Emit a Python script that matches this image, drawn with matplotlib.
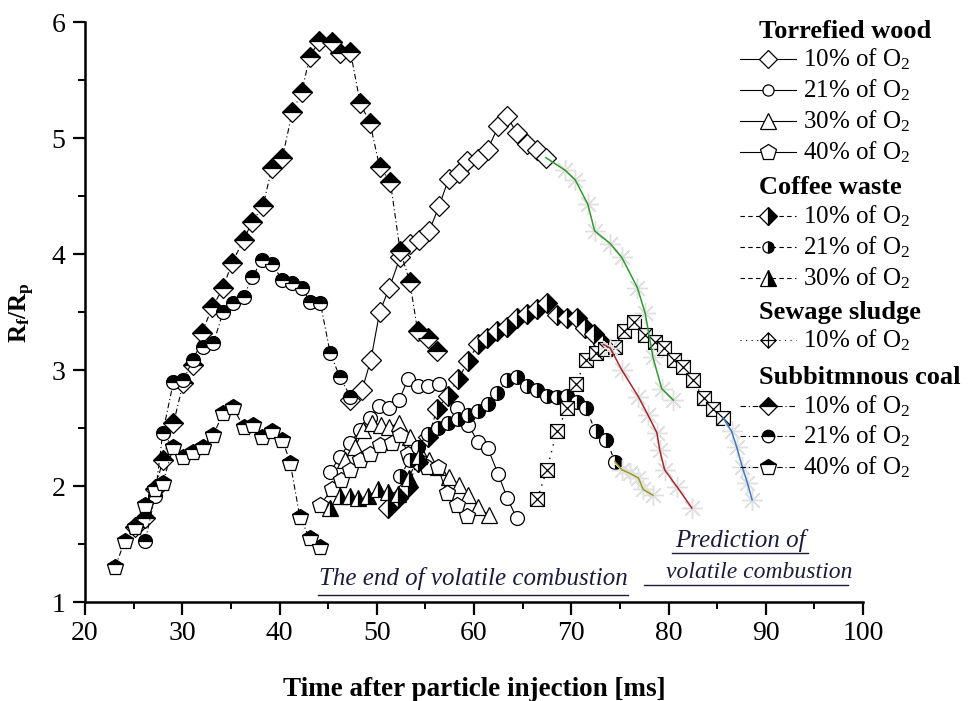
import numpy as np
import matplotlib.pyplot as plt
from matplotlib.path import Path

plt.rcParams['font.family'] = ['Liberation Serif', 'DejaVu Serif']
plt.rcParams['mathtext.fontset'] = 'custom'
plt.rcParams['mathtext.rm'] = 'Liberation Serif'
plt.rcParams['mathtext.it'] = 'Liberation Serif:italic'
plt.rcParams['mathtext.bf'] = 'Liberation Serif:bold'
plt.rcParams['mathtext.default'] = 'rm'

# ---- data (time in ms, Rf/Rp) ----
# torrefied wood
tw10_t = [47.2, 48.5, 49.4, 50.3, 51.3, 52.4, 53.4, 54.3, 55.4, 56.4, 57.4, 58.5, 59.3, 60.4, 61.4, 62.5, 63.4, 64.4, 65.4, 66.5, 67.4]
tw10_r = [2.74, 2.83, 3.09, 3.50, 3.71, 3.97, 4.09, 4.12, 4.20, 4.41, 4.65, 4.70, 4.80, 4.82, 4.90, 5.10, 5.19, 5.04, 4.95, 4.90, 4.83]
tw21_t = [45.2, 46.2, 47.2, 48.3, 49.3, 50.2, 51.3, 52.3, 53.2, 54.2, 55.3, 56.4, 58.3, 59.4, 60.4, 61.4, 62.5, 63.4, 64.4]
tw21_r = [2.12, 2.25, 2.37, 2.48, 2.59, 2.69, 2.67, 2.74, 2.92, 2.86, 2.86, 2.88, 2.67, 2.53, 2.38, 2.33, 2.10, 1.90, 1.72]
tw30_t = [46.7, 47.8, 48.6, 49.5, 50.4, 51.3, 52.3, 53.4, 54.3, 55.4, 56.3, 57.4, 58.5, 59.4, 60.4, 61.5]
tw30_r = [2.22, 2.34, 2.48, 2.54, 2.53, 2.51, 2.54, 2.42, 2.31, 2.22, 2.16, 2.08, 2.01, 1.92, 1.82, 1.75]
tw40_t = [44.2, 45.4, 46.3, 47.2, 48.3, 49.3, 50.3, 51.6, 52.4, 53.2, 54.2, 55.2, 56.3, 57.2, 58.3, 59.3]
tw40_r = [1.84, 1.97, 2.05, 2.14, 2.22, 2.28, 2.35, 2.37, 2.44, 2.28, 2.22, 2.16, 2.16, 1.94, 1.84, 1.74]

# coffee waste
cw10_t = [51.2, 52.2, 53.2, 54.2, 55.3, 56.2, 57.3, 58.4, 59.4, 60.4, 61.3, 62.4, 63.4, 64.4, 65.5, 66.5, 67.5, 68.5, 69.6, 70.6, 71.4, 72.3, 73.3]
cw10_r = [1.81, 1.90, 1.99, 2.21, 2.42, 2.66, 2.78, 2.92, 3.08, 3.22, 3.28, 3.34, 3.37, 3.45, 3.48, 3.53, 3.58, 3.47, 3.45, 3.45, 3.36, 3.31, 3.22]
cw21_t = [52.4, 53.4, 54.2, 55.3, 56.3, 57.3, 58.4, 59.4, 60.4, 61.4, 62.4, 63.4, 64.4, 65.5, 66.5, 67.5, 68.5, 69.6, 70.6, 71.5, 72.5, 73.6, 74.5]
cw21_r = [2.09, 2.22, 2.34, 2.45, 2.50, 2.54, 2.58, 2.61, 2.65, 2.71, 2.80, 2.91, 2.94, 2.86, 2.83, 2.78, 2.77, 2.78, 2.72, 2.67, 2.47, 2.40, 2.21]
cw30_t = [45.2, 46.2, 47.2, 48.1, 49.1, 50.1, 51.2, 52.2, 53.3, 54.3]
cw30_r = [1.81, 1.91, 1.91, 1.90, 1.91, 1.97, 1.95, 1.93, 2.07, 2.26]

# sewage sludge
ss10_t = [66.5, 67.5, 68.5, 69.6, 70.5, 71.5, 72.5, 73.5, 74.5, 75.4, 76.5, 77.6, 78.6, 79.5, 80.6, 81.5, 82.5, 83.6, 84.6, 85.6]
ss10_r = [1.89, 2.14, 2.47, 2.67, 2.88, 3.09, 3.15, 3.18, 3.20, 3.34, 3.41, 3.30, 3.24, 3.19, 3.09, 3.03, 2.91, 2.76, 2.66, 2.59]

# subbituminous coal
sc10_t = [25.1, 26.2, 27.2, 28.0, 29.1, 30.1, 31.1, 32.0, 33.1, 34.2, 35.1, 36.3, 37.2, 38.3, 39.2, 40.3, 41.3, 42.3, 43.1, 44.1, 45.4, 46.2, 47.3, 48.3, 49.3, 50.3, 51.4, 52.4, 53.4, 54.2, 55.3, 56.2]
sc10_r = [1.65, 1.72, 1.97, 2.22, 2.54, 2.89, 3.04, 3.32, 3.54, 3.71, 3.92, 4.12, 4.28, 4.41, 4.74, 4.83, 5.22, 5.40, 5.70, 5.84, 5.83, 5.73, 5.74, 5.30, 5.13, 4.75, 4.62, 4.03, 3.76, 3.34, 3.28, 3.16]
sc21_t = [26.2, 27.2, 28.0, 29.1, 30.1, 31.1, 32.1, 33.2, 34.2, 35.2, 36.3, 37.2, 38.2, 39.2, 40.3, 41.3, 42.3, 43.1, 44.2, 45.2, 46.2, 47.3]
sc21_r = [1.53, 1.91, 2.46, 2.90, 2.91, 3.09, 3.20, 3.23, 3.50, 3.58, 3.63, 3.80, 3.95, 3.91, 3.78, 3.75, 3.71, 3.59, 3.58, 3.15, 2.94, 2.77]
sc40_t = [23.1, 24.1, 25.1, 26.2, 27.2, 28.0, 29.1, 30.1, 31.1, 32.1, 33.2, 34.2, 35.2, 36.3, 37.3, 38.2, 39.2, 40.3, 41.1, 42.1, 43.1, 44.2]
sc40_r = [1.30, 1.53, 1.65, 1.84, 1.97, 2.03, 2.34, 2.25, 2.29, 2.34, 2.44, 2.63, 2.68, 2.51, 2.53, 2.42, 2.47, 2.40, 2.20, 1.73, 1.55, 1.47]

# predicted end of volatile combustion
pr_green_t = [67.4, 69.4, 70.4, 71.7, 72.4, 74.0, 75.2, 76.8, 77.6, 78.4, 79.3, 80.5]
pr_green_r = [4.83, 4.72, 4.64, 4.43, 4.20, 4.09, 3.97, 3.71, 3.49, 3.11, 2.84, 2.74]
pr_red_t = [73.3, 74.0, 75.2, 76.9, 77.9, 78.8, 79.1, 79.6, 80.9, 82.4]
pr_red_r = [3.22, 3.19, 3.00, 2.77, 2.61, 2.46, 2.31, 2.14, 1.99, 1.81]
pr_olive_t = [74.5, 75.2, 76.0, 76.9, 77.4, 78.4]
pr_olive_r = [2.21, 2.14, 2.11, 2.07, 1.97, 1.92]
pr_blue_t = [85.6, 86.5, 87.0, 87.6, 88.1, 88.6]
pr_blue_r = [2.59, 2.47, 2.34, 2.16, 2.03, 1.88]

o2_labels = ['10% of O$_2$', '21% of O$_2$', '30% of O$_2$', '40% of O$_2$']

# markers
sq_x = Path([(-1, -1), (1, -1), (1, 1), (-1, 1), (-1, -1), (-1, -1), (1, 1), (-1, 1), (1, -1)],
            [Path.MOVETO, Path.LINETO, Path.LINETO, Path.LINETO, Path.CLOSEPOLY,
             Path.MOVETO, Path.LINETO, Path.MOVETO, Path.LINETO])
dia_plus = Path([(0, -1), (1, 0), (0, 1), (-1, 0), (0, -1), (0, -1), (0, 1), (-1, 0), (1, 0)],
                [Path.MOVETO, Path.LINETO, Path.LINETO, Path.LINETO, Path.CLOSEPOLY,
                 Path.MOVETO, Path.LINETO, Path.MOVETO, Path.LINETO])

lw = 0.8
mew = 0.9
dash_cw = (0, (4, 3))
dot_ss = (0, (1, 4))
dashdot_sc = (0, (5, 2.5, 1, 2.5))

styles = [
    # (t, r, marker, ms, fillstyle, linestyle)
    (tw10_t, tw10_r, 'D', 10, 'none', '-'),
    (tw21_t, tw21_r, 'o', 10, 'none', '-'),
    (tw30_t, tw30_r, '^', 11, 'none', '-'),
    (tw40_t, tw40_r, 'p', 12, 'none', '-'),
    (cw10_t, cw10_r, 'D', 10, 'right', dash_cw),
    (cw21_t, cw21_r, 'o', 10, 'right', dash_cw),
    (cw30_t, cw30_r, '^', 11, 'right', dash_cw),
    (sc10_t, sc10_r, 'D', 10, 'top', dashdot_sc),
    (sc21_t, sc21_r, 'o', 10, 'top', dashdot_sc),
    (sc40_t, sc40_r, 'p', 12, 'top', dashdot_sc),
]

fig = plt.figure(figsize=(9.77, 7.01), dpi=100)
ax = fig.add_axes([85 / 977, 1 - 602 / 701, (863 - 85) / 977, (602 - 22) / 701])


def mark_kw(marker, ms, fill):
    if fill == 'none':
        return dict(marker=marker, ms=ms, mfc='white', mec='black', mew=mew)
    return dict(marker=marker, ms=ms, fillstyle=fill, mfc='black', mfcalt='white', mec='black', mew=mew)


for t, r, m, ms, fill, ls in styles:
    ax.plot(t, r, color='black', lw=lw, linestyle=ls, **mark_kw(m, ms, fill))

ax.plot(ss10_t, ss10_r, color='black', lw=1.0, linestyle=dot_ss,
        marker=sq_x, ms=10, mfc='white', mec='black', mew=mew)

for t, r, c in [(pr_green_t, pr_green_r, '#2e9a2e'), (pr_red_t, pr_red_r, '#a3262a'),
                (pr_olive_t, pr_olive_r, '#9a9a1e'), (pr_blue_t, pr_blue_r, '#3f78c0')]:
    ax.plot(t[1:], r[1:], linestyle='none', marker=(8, 2, 0), ms=15, mec='#e0e0e0', mew=1.0)
    ax.plot(t, r, color=c, lw=1.1)

ax.set_xlim(20, 100)
ax.set_ylim(1, 6)
ax.set_xticks(np.arange(20, 101, 10))
ax.set_xticks(np.arange(25, 100, 10), minor=True)
ax.set_yticks(np.arange(1, 7, 1))
ax.set_yticks(np.arange(1.5, 6, 1), minor=True)
ax.spines['top'].set_visible(False)
ax.spines['right'].set_visible(False)
for s in ['left', 'bottom']:
    ax.spines[s].set_linewidth(1.8)
ax.tick_params(which='major', length=9, width=1.6, labelsize=20, direction='out', pad=5)
ax.tick_params(which='minor', length=5, width=1.4, direction='out')

fig.text(22 / 977, 1 - 313 / 701, r'$\mathbf{R_f/R_p}$', rotation=90, ha='center', va='center', fontsize=18)
fig.text(474 / 977, 1 - 690 / 701, 'Time after particle injection [ms]', ha='center', va='center',
         fontsize=19.5, fontweight='bold')

# overlay in pixel coordinates for legend and notes
lax = fig.add_axes([0, 0, 1, 1])
lax.set_xlim(0, 977)
lax.set_ylim(701, 0)
lax.axis('off')

note_c = '#1c1c3a'
lax.text(473, 579, 'The end of volatile combustion', style='italic', fontsize=18, color=note_c,
         ha='center', va='center')
lax.plot([318, 628], [595, 595], color=note_c, lw=1.0)
lax.text(740, 540, 'Prediction of', style='italic', fontsize=18, color=note_c, ha='center', va='center')
lax.plot([672, 808], [553, 553], color=note_c, lw=1.0)
lax.text(759, 572, 'volatile combustion', style='italic', fontsize=17, color=note_c, ha='center', va='center')
lax.plot([644, 848], [585, 585], color=note_c, lw=1.0)

groups = [
    ('Torrefied wood', 31, [(59, 'D', 9, 'none', '-', o2_labels[0]), (90, 'o', 8, 'none', '-', o2_labels[1]),
                            (121, '^', 11, 'none', '-', o2_labels[2]), (152, 'p', 12, 'none', '-', o2_labels[3])]),
    ('Coffee waste', 187, [(216, 'D', 9, 'right', dash_cw, o2_labels[0]), (247, 'o', 8, 'right', dash_cw, o2_labels[1]),
                           (278, '^', 11, 'right', dash_cw, o2_labels[2])]),
    ('Sewage sludge', 312, [(340, dia_plus, 11, 'none', dot_ss, o2_labels[0])]),
    ('Subbitmnous coal', 378, [(406, 'D', 9, 'top', dashdot_sc, o2_labels[0]), (436, 'o', 9, 'top', dashdot_sc, o2_labels[1]),
                               (467, 'p', 12, 'top', dashdot_sc, o2_labels[3])]),
]
for head, hy, rows in groups:
    lax.text(759, hy, head, fontsize=19, fontweight='bold', ha='left', va='center')
    for y, m, ms, fill, ls, lab in rows:
        lax.plot([740, 796], [y, y], color='black', lw=lw, linestyle=ls)
        lax.plot([768], [y], linestyle='none', **mark_kw(m, ms, fill))
        lax.text(803, y, lab, fontsize=18, ha='left', va='center')

fig.savefig('out.png', dpi=100)
